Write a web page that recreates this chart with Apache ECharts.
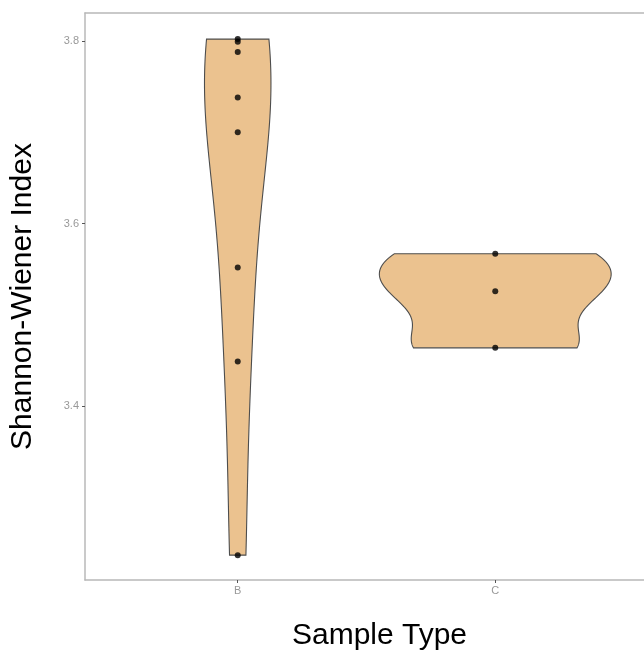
<!DOCTYPE html>
<html>
<head>
<meta charset="utf-8">
<script src="https://cdn.jsdelivr.net/npm/echarts@6/dist/echarts.min.js"></script>
<style>
  html, body { margin: 0; padding: 0; background: #ffffff; }
  #chart { width: 644px; height: 656px; }
</style>
</head>
<body>
<div id="chart"></div>
<script>
// Sample groups and their Shannon-Wiener index values
const categories = ['B', 'C'];
const valuesB = [3.802, 3.799, 3.788, 3.738, 3.700, 3.552, 3.449, 3.237];
const valuesC = [3.567, 3.526, 3.464];
const yTicks = [3.4, 3.6, 3.8];

const groups = [valuesB, valuesC];

// Gaussian kernel density with Silverman's rule-of-thumb bandwidth (bw.nrd0)
function quantile(sorted, p) {
  const h = (sorted.length - 1) * p;
  const lo = Math.floor(h), hi = Math.ceil(h);
  return sorted[lo] + (h - lo) * (sorted[hi] - sorted[lo]);
}
function bandwidth(vals) {
  const n = vals.length;
  const mean = vals.reduce((a, b) => a + b, 0) / n;
  const sd = Math.sqrt(vals.reduce((a, v) => a + (v - mean) * (v - mean), 0) / (n - 1));
  const s = vals.slice().sort((a, b) => a - b);
  const iqr = quantile(s, 0.75) - quantile(s, 0.25);
  let lo = Math.min(sd, iqr / 1.34);
  if (!(lo > 0)) lo = sd || Math.abs(s[0]) || 1;
  return 0.9 * lo * Math.pow(n, -0.2);
}
function density(vals, steps) {
  const bw = bandwidth(vals);
  const min = Math.min(...vals), max = Math.max(...vals);
  const out = [];
  for (let i = 0; i < steps; i++) {
    const y = min + (max - min) * i / (steps - 1);
    let d = 0;
    for (const v of vals) {
      const z = (y - v) / bw;
      d += Math.exp(-0.5 * z * z);
    }
    out.push([y, d / (vals.length * bw * Math.sqrt(2 * Math.PI))]);
  }
  return out;
}

const densities = groups.map(g => density(g, 256));
const maxDens = Math.max(...densities.map(d => Math.max(...d.map(p => p[1]))));
const halfWidth = 0.45; // violin half-width at the widest point, in category units

const violinData = categories.map((c, i) => [i + 1]);
const pointData = [];
groups.forEach((g, i) => g.forEach(v => pointData.push([i + 1, v])));

const frameLine = { show: true, lineStyle: { color: '#b8b8b8', width: 1.5 } };
const tickText = { fontFamily: 'Liberation Sans', fontSize: 11, color: '#999999' };
const titleText = { fontFamily: 'Liberation Sans', fontSize: 30, color: '#000000' };

const chart = echarts.init(document.getElementById('chart'), null, { renderer: 'canvas' });

chart.setOption({
  animation: false,
  backgroundColor: '#ffffff',
  grid: { left: 84, top: 13, right: 0, bottom: 75 },
  xAxis: [
    {
      type: 'value', min: 0.407, max: 2.5775, position: 'bottom',
      name: 'Sample Type', nameLocation: 'middle', nameGap: 41,
      nameTextStyle: Object.assign({ padding: [0, 0, 0, 30] }, titleText),
      axisLine: frameLine,
      splitLine: { show: false },
      axisTick: { show: true, customValues: [1, 2], length: 3, lineStyle: { color: '#555555', width: 1 } },
      axisLabel: Object.assign({
        customValues: [1, 2], margin: 5,
        formatter: v => categories[Math.round(v) - 1] || ''
      }, tickText)
    },
    {
      // top edge of the panel frame
      type: 'value', min: 0.407, max: 2.5775, position: 'top',
      axisLine: frameLine,
      axisTick: { show: false }, axisLabel: { show: false }, splitLine: { show: false }
    }
  ],
  yAxis: {
    type: 'value', min: 3.2098, max: 3.8306,
    name: 'Shannon-Wiener Index', nameLocation: 'middle', nameGap: 47,
    nameTextStyle: titleText,
    axisLine: frameLine,
    splitLine: { show: false },
    axisTick: { show: true, customValues: yTicks, length: 3, lineStyle: { color: '#555555', width: 1 } },
    axisLabel: Object.assign({
      customValues: yTicks, margin: 6,
      formatter: v => v.toFixed(1)
    }, tickText)
  },
  series: [
    {
      type: 'custom',
      data: violinData,
      renderItem: function (params, api) {
        const idx = params.dataIndex;
        const cx = api.value(0);
        const dens = densities[idx];
        const left = [], right = [];
        for (const [y, d] of dens) {
          const w = d / maxDens * halfWidth;
          right.push(api.coord([cx + w, y]));
          left.push(api.coord([cx - w, y]));
        }
        const pts = right.concat(left.reverse());
        return {
          type: 'polygon',
          shape: { points: pts },
          style: { fill: '#ebc28f', stroke: '#4d4d4d', lineWidth: 1.1 }
        };
      },
      z: 2
    },
    {
      type: 'scatter',
      data: pointData,
      symbolSize: 6,
      itemStyle: { color: '#000000' },
      z: 3
    }
  ]
});
</script>
</body>
</html>
